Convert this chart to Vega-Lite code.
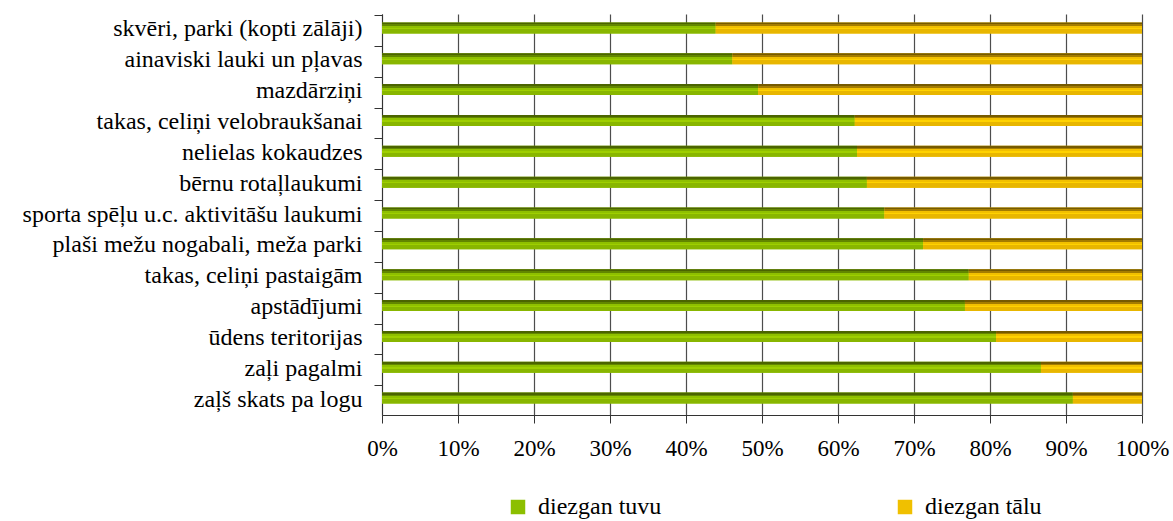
{
  "$schema": "https://vega.github.io/schema/vega-lite/v6.json",
  "autosize": {"type": "none"},
  "padding": {"left": 382, "top": 14, "right": 31, "bottom": 106},
  "width": 760,
  "height": 401,
  "config": {
    "font": "Liberation Serif, serif",
    "view": {"stroke": null},
    "axis": {"labelFont": "Liberation Serif, serif", "labelColor": "#000", "labelFontSize": 23},
    "legend": {"labelFont": "Liberation Serif, serif"}
  },
  "data": {
    "values": [
      {"k": "skvēri, parki (kopti zālāji)", "s": "diezgan tuvu", "o": 1, "v": 43.9},
      {"k": "skvēri, parki (kopti zālāji)", "s": "diezgan tālu", "o": 2, "v": 56.1},
      {"k": "ainaviski lauki un pļavas\u00a0", "s": "diezgan tuvu", "o": 1, "v": 46.1},
      {"k": "ainaviski lauki un pļavas\u00a0", "s": "diezgan tālu", "o": 2, "v": 53.9},
      {"k": "mazdārziņi", "s": "diezgan tuvu", "o": 1, "v": 49.5},
      {"k": "mazdārziņi", "s": "diezgan tālu", "o": 2, "v": 50.5},
      {"k": "takas, celiņi velobraukšanai", "s": "diezgan tuvu", "o": 1, "v": 62.2},
      {"k": "takas, celiņi velobraukšanai", "s": "diezgan tālu", "o": 2, "v": 37.8},
      {"k": "nelielas kokaudzes\u00a0", "s": "diezgan tuvu", "o": 1, "v": 62.5},
      {"k": "nelielas kokaudzes\u00a0", "s": "diezgan tālu", "o": 2, "v": 37.5},
      {"k": "bērnu rotaļlaukumi", "s": "diezgan tuvu", "o": 1, "v": 63.8},
      {"k": "bērnu rotaļlaukumi", "s": "diezgan tālu", "o": 2, "v": 36.2},
      {"k": "sporta spēļu u.c. aktivitāšu laukumi", "s": "diezgan tuvu", "o": 1, "v": 66.1},
      {"k": "sporta spēļu u.c. aktivitāšu laukumi", "s": "diezgan tālu", "o": 2, "v": 33.9},
      {"k": "plaši mežu nogabali, meža parki", "s": "diezgan tuvu", "o": 1, "v": 71.2},
      {"k": "plaši mežu nogabali, meža parki", "s": "diezgan tālu", "o": 2, "v": 28.8},
      {"k": "takas, celiņi pastaigām", "s": "diezgan tuvu", "o": 1, "v": 77.2},
      {"k": "takas, celiņi pastaigām", "s": "diezgan tālu", "o": 2, "v": 22.8},
      {"k": "apstādījumi", "s": "diezgan tuvu", "o": 1, "v": 76.7},
      {"k": "apstādījumi", "s": "diezgan tālu", "o": 2, "v": 23.3},
      {"k": "ūdens teritorijas\u00a0", "s": "diezgan tuvu", "o": 1, "v": 80.8},
      {"k": "ūdens teritorijas\u00a0", "s": "diezgan tālu", "o": 2, "v": 19.2},
      {"k": "zaļi pagalmi\u00a0", "s": "diezgan tuvu", "o": 1, "v": 86.7},
      {"k": "zaļi pagalmi\u00a0", "s": "diezgan tālu", "o": 2, "v": 13.3},
      {"k": "zaļš skats pa logu", "s": "diezgan tuvu", "o": 1, "v": 90.9},
      {"k": "zaļš skats pa logu", "s": "diezgan tālu", "o": 2, "v": 9.1}
    ]
  },
  "transform": [
    {"stack": "v", "groupby": ["k"], "sort": [{"field": "o", "order": "ascending"}], "offset": "normalize", "as": ["x0", "x1"]}
  ],
  "encoding": {
    "y": {
      "field": "k",
      "type": "nominal",
      "sort": null,
      "title": null,
      "axis": {
        "bandPosition": 0,
        "tickSize": 8,
        "tickColor": "#333",
        "domainColor": "#333",
        "labelPadding": 12,
        "labelLimit": 400,
        "labelFont": "Liberation Serif, serif",
        "labelFontSize": 24
      }
    },
    "x": {
      "field": "x0",
      "type": "quantitative",
      "scale": {"domain": [0, 1], "nice": false},
      "title": null,
      "axis": {
        "values": [0, 0.1, 0.2, 0.3, 0.4, 0.5, 0.6, 0.7, 0.8, 0.9, 1],
        "format": ".0%",
        "grid": true,
        "gridColor": "#4d4d4d",
        "gridWidth": 1.2,
        "tickSize": 8,
        "tickColor": "#333",
        "domainColor": "#333",
        "labelPadding": 14,
        "labelFlush": false,
        "labelOverlap": false,
        "labelFont": "Liberation Serif, serif",
        "labelFontSize": 23
      }
    },
    "x2": {"field": "x1"}
  },
  "layer": [
    {
      "mark": {"type": "bar", "size": 11, "yOffset": -1.5},
      "encoding": {
        "color": {
          "field": "s",
          "type": "nominal",
          "scale": {"domain": ["diezgan tuvu", "diezgan tālu"], "range": ["#8cbf00", "#f0c000"]},
          "legend": {
            "title": null,
            "orient": "none",
            "legendX": 124,
            "legendY": 481,
            "direction": "horizontal",
            "symbolType": "square",
            "symbolSize": 210,
            "symbolStrokeWidth": 0,
            "labelFont": "Liberation Serif, serif",
            "labelFontSize": 24,
            "labelColor": "#000",
            "labelOffset": 8,
            "columnPadding": 231
          }
        }
      }
    },
    {
      "transform": [{"filter": "datum.o == 1"}],
      "mark": {
        "type": "bar",
        "size": 11,
        "yOffset": -1.5,
        "color": {
          "gradient": "linear", "x1": 0, "y1": 0, "x2": 0, "y2": 1,
          "stops": [
            {"offset": 0, "color": "#4b6400"},
            {"offset": 0.18, "color": "#4b6400"},
            {"offset": 0.18, "color": "#628600"},
            {"offset": 0.32, "color": "#628600"},
            {"offset": 0.32, "color": "#8fc000"},
            {"offset": 0.5, "color": "#8fc000"},
            {"offset": 0.5, "color": "#9ecf00"},
            {"offset": 0.62, "color": "#9ecf00"},
            {"offset": 0.62, "color": "#88b600"},
            {"offset": 1, "color": "#88b600"}
          ]
        }
      }
    },
    {
      "transform": [{"filter": "datum.o == 2"}],
      "mark": {
        "type": "bar",
        "size": 11,
        "yOffset": -1.5,
        "color": {
          "gradient": "linear", "x1": 0, "y1": 0, "x2": 0, "y2": 1,
          "stops": [
            {"offset": 0, "color": "#765a00"},
            {"offset": 0.18, "color": "#765a00"},
            {"offset": 0.18, "color": "#a47c00"},
            {"offset": 0.32, "color": "#a47c00"},
            {"offset": 0.32, "color": "#f2c000"},
            {"offset": 0.5, "color": "#f2c000"},
            {"offset": 0.5, "color": "#ffd200"},
            {"offset": 0.62, "color": "#ffd200"},
            {"offset": 0.62, "color": "#e8b600"},
            {"offset": 1, "color": "#e8b600"}
          ]
        }
      }
    }
  ]
}
